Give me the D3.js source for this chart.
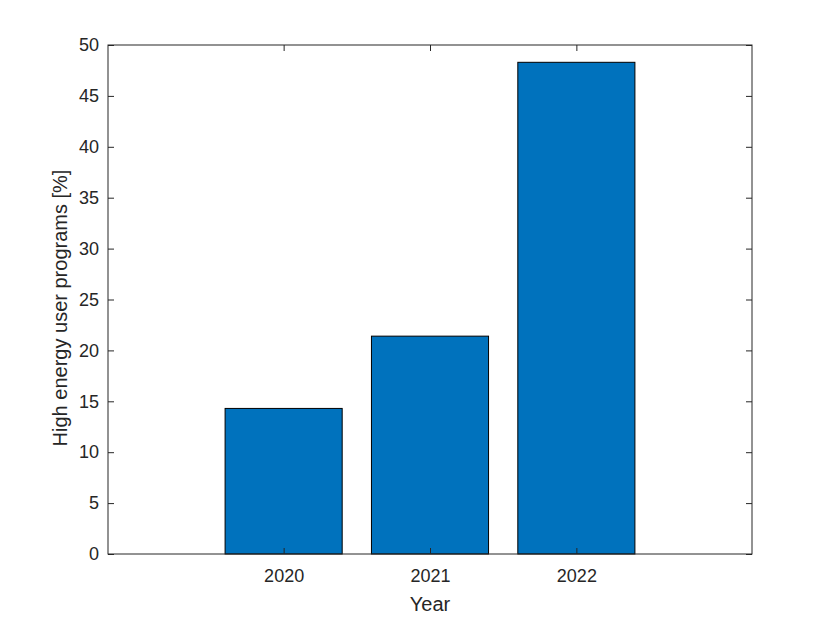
<!DOCTYPE html>
<html><head><meta charset="utf-8">
<script src="https://cdn.jsdelivr.net/npm/d3@7"></script>
<style>body{margin:0;background:#fff}</style>
</head><body>
<script>
const categories = ["2020", "2021", "2022"];
const values = [14.3, 21.4, 48.3];
const yTicks = [0, 5, 10, 15, 20, 25, 30, 35, 40, 45, 50];

const W = 830, H = 623;
const m = {left: 108, top: 45, right: 752, bottom: 554};
const svg = d3.select("body").append("svg").attr("width", W).attr("height", H)
  .style("font-family", "'Liberation Sans', Arial, Helvetica, sans-serif");
svg.append("rect").attr("width", W).attr("height", H).attr("fill", "#fff");

const x = d3.scaleLinear().domain([-0.2, 4.2]).range([m.left, m.right]);
const y = d3.scaleLinear().domain([0, 50]).range([m.bottom, m.top]);
const bw = 0.8;

svg.selectAll("rect.bar").data(values).enter().append("rect")
  .attr("class", "bar")
  .attr("x", (d, i) => x(i + 1 - bw / 2))
  .attr("width", (d, i) => x(i + 1 + bw / 2) - x(i + 1 - bw / 2))
  .attr("y", d => y(d))
  .attr("height", d => y(0) - y(d))
  .attr("fill", "#0072BD").attr("stroke", "#000").attr("stroke-width", 1);

const tl = 6;
const col = "#262626";
const xt = categories.map((c, i) => i + 1);
const yAxisL = d3.axisLeft(y).tickValues(yTicks).tickSizeInner(-tl).tickSizeOuter(0).tickPadding(9);
const yAxisR = d3.axisRight(y).tickValues(yTicks).tickSizeInner(-tl).tickSizeOuter(0).tickFormat("");
const xAxisB = d3.axisBottom(x).tickValues(xt).tickFormat((d, i) => categories[i]).tickSizeInner(-tl).tickSizeOuter(0).tickPadding(15);
const xAxisT = d3.axisTop(x).tickValues(xt).tickFormat("").tickSizeInner(-tl).tickSizeOuter(0);

function style(g) {
  g.select(".domain").remove();
  g.selectAll("line").attr("stroke", col);
  g.selectAll("text").attr("fill", col).style("font-size", "18px");
}
svg.append("g").attr("transform", `translate(${m.left},0)`).call(yAxisL).call(style);
svg.append("g").attr("transform", `translate(${m.right},0)`).call(yAxisR).call(style);
svg.append("g").attr("transform", `translate(0,${m.bottom})`).call(xAxisB).call(style);
svg.append("g").attr("transform", `translate(0,${m.top})`).call(xAxisT).call(style);

svg.append("rect").attr("x", m.left).attr("y", m.top)
  .attr("width", m.right - m.left).attr("height", m.bottom - m.top)
  .attr("fill", "none").attr("stroke", col).attr("stroke-width", 1);

svg.append("text").attr("x", (m.left + m.right) / 2).attr("y", 611)
  .attr("text-anchor", "middle").attr("fill", col).style("font-size", "20px").text("Year");
svg.append("text").attr("transform", `translate(67,308) rotate(-90)`)
  .attr("text-anchor", "middle").attr("fill", col).style("font-size", "20px")
  .text("High energy user programs [%]");
</script>
</body></html>
